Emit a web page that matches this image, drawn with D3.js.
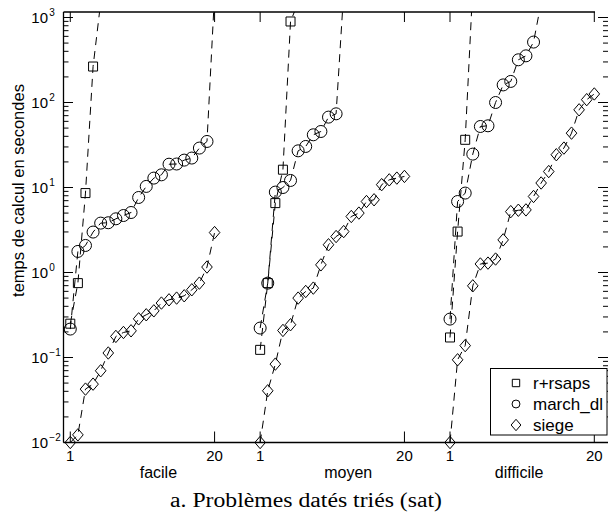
<!DOCTYPE html>
<html><head><meta charset="utf-8">
<script src="https://cdn.jsdelivr.net/npm/d3@7"></script>
<style>body{margin:0;background:#fff}</style>
</head><body>
<svg id="c" width="608" height="514" xmlns="http://www.w3.org/2000/svg"></svg>
<script>
// ---- data ----
const panels = ["facile", "moyen", "difficile"];
const panelOffset = [0, 25, 50];          // problem index offset of each panel on the shared x axis
const xTickValues = [1, 20];
const xTickLabels = ["1", "20"];
const seriesNames = ["r+rsaps", "march_dl", "siege"];
const yTickExponents = ["\u22122", "\u22121", "0", "1", "2", "3"];

// values in seconds, sorted; values above 1000 are timeouts (off the chart)
const rsapsFacile = [0.25, 0.75, 8.6, 265, 1500];
const marchFacile = [0.216, 1.77, 2.08, 2.99, 3.81, 3.85, 4.28, 4.68, 5.08, 7.63, 10.3, 12.9, 14.1, 18.8, 18.9, 21.0, 22.2, 29.1, 34.8, 1900];
const siegeFacile = [0.010, 0.0123, 0.0425, 0.0486, 0.0698, 0.113, 0.177, 0.197, 0.206, 0.285, 0.318, 0.354, 0.437, 0.477, 0.50, 0.532, 0.626, 0.75, 1.16, 2.95];

const rsapsMoyen = [0.123, 0.75, 6.55, 16.2, 898, 1500];
const marchMoyen = [0.222, 0.75, 8.83, 10.0, 12.1, 27.0, 30.4, 41.7, 45.6, 67.3, 73.6, 2000];
const siegeMoyen = [0.010, 0.0406, 0.0836, 0.208, 0.243, 0.50, 0.598, 0.655, 1.23, 2.12, 2.65, 3.03, 4.56, 5.0, 6.84, 7.17, 10.8, 12.3, 12.9, 13.5];

const rsapsDifficile = [0.172, 3.03, 36.4, 2300];
const marchDifficile = [0.283, 6.84, 8.6, 24.7, 52.2, 53.2, 100, 161, 177, 318, 354, 514, 1500];
const siegeDifficile = [0.010, 0.094, 0.138, 0.697, 1.26, 1.29, 1.44, 2.42, 5.2, 5.4, 5.45, 7.84, 11.3, 15.4, 24.3, 29.1, 43.6, 82.0, 108, 126];

const seriesByPanel = [
  [rsapsFacile, marchFacile, siegeFacile],
  [rsapsMoyen, marchMoyen, siegeMoyen],
  [rsapsDifficile, marchDifficile, siegeDifficile]
];

// ---- layout ----
const svg = d3.select("#c");
const x = d3.scaleLinear().domain([0, 70]).range([62.7, 594.3]);
const y = d3.scaleLog().domain([0.01, 1000]).range([442.5, 17.5]);
const plotTop = 12, plotBottom = 442.5, plotLeft = 63.5, rightAxis = 608;
const sans = "'Liberation Sans', Arial, Helvetica, sans-serif";

svg.append("defs").append("clipPath").attr("id", "plotclip")
  .append("rect").attr("x", plotLeft).attr("y", plotTop).attr("width", rightAxis - plotLeft).attr("height", plotBottom - plotTop);

const markers = {
  "r+rsaps": s => `M${-4.5*s},${-4.5*s}h${9*s}v${9*s}h${-9*s}Z`,
  "march_dl": s => `M${-6*s},0a${6*s},${6*s} 0 1,0 ${12*s},0a${6*s},${6*s} 0 1,0 ${-12*s},0Z`,
  "siege": s => `M0,${-6.2*s}L${5.3*s},0L0,${6.2*s}L${-5.3*s},0Z`
};

// ---- lines ----
const line = d3.line().x(d => x(d.x)).y(d => y(d.v));
const gLines = svg.append("g").attr("clip-path", "url(#plotclip)");
const gMarks = svg.append("g");
seriesByPanel.forEach((arr, p) => {
  arr.forEach((vals, s) => {
    const pts = vals.map((v, i) => ({x: panelOffset[p] + i + 1, v}));
    gLines.append("path").attr("d", line(pts))
      .attr("fill", "none").attr("stroke", "#000").attr("stroke-width", 1)
      .attr("stroke-dasharray", "8,6");
    gMarks.selectAll(null).data(pts.filter(d => d.v <= 1000)).enter().append("path")
      .attr("transform", d => `translate(${x(d.x)},${y(d.v)})`)
      .attr("d", markers[seriesNames[s]](1))
      .attr("fill", "none").attr("stroke", "#000").attr("stroke-width", 1);
  });
});

// ---- frame & ticks ----
const gAx = svg.append("g").attr("stroke", "#000").attr("stroke-width", 1.3);
gAx.append("line").attr("x1", plotLeft).attr("x2", plotLeft).attr("y1", plotTop).attr("y2", plotBottom);
gAx.append("line").attr("x1", plotLeft).attr("x2", rightAxis).attr("y1", plotBottom).attr("y2", plotBottom);
gAx.append("line").attr("x1", plotLeft).attr("x2", 595).attr("y1", plotTop).attr("y2", plotTop);

const isMajor = v => Math.abs(Math.log10(v) - Math.round(Math.log10(v))) < 1e-6;
y.ticks().forEach(v => {
  const yy = y(v), len = isMajor(v) ? 9.5 : 5;
  gAx.append("line").attr("x1", plotLeft).attr("x2", plotLeft + len).attr("y1", yy).attr("y2", yy).attr("stroke-width", 1);
  gAx.append("line").attr("x1", rightAxis).attr("x2", rightAxis - (isMajor(v) ? 10 : 5)).attr("y1", yy).attr("y2", yy).attr("stroke-width", 1);
});

panelOffset.forEach(off => {
  xTickValues.forEach((t, k) => {
    const xx = x(off + t);
    gAx.append("line").attr("x1", xx).attr("x2", xx).attr("y1", plotBottom).attr("y2", plotBottom - 11).attr("stroke-width", 1);
    gAx.append("line").attr("x1", xx).attr("x2", xx).attr("y1", plotTop).attr("y2", plotTop + 10).attr("stroke-width", 1);
    svg.append("text").attr("x", xx).attr("y", 461).attr("text-anchor", "middle")
      .attr("font-family", sans).attr("font-size", 15).text(xTickLabels[k]);
  });
});

// y tick labels 10^n
y.ticks().filter(isMajor).forEach((v, i) => {
  const yy = y(v);
  svg.append("text").attr("x", 48).attr("y", yy + 5.3).attr("text-anchor", "end")
    .attr("font-family", sans).attr("font-size", 15).text("10");
  svg.append("text").attr("x", 49.3).attr("y", yy - 1.2)
    .attr("font-family", sans).attr("font-size", 10).text(yTickExponents[i]);
});

// panel labels (centred under each group)
const panelLabelPos = [12.6, 37.6, 60.1];
panels.forEach((name, p) => {
  svg.append("text").attr("x", x(panelLabelPos[p])).attr("y", 478).attr("text-anchor", "middle")
    .attr("font-family", sans).attr("font-size", 16).text(name);
});

// y axis title
svg.append("text").attr("transform", "translate(23.5,190.5) rotate(-90)").attr("text-anchor", "middle")
  .attr("font-family", sans).attr("font-size", 16.5).text("temps de calcul en secondes");

// caption
svg.append("text").attr("x", 170).attr("y", 507)
  .attr("font-family", "'Liberation Serif', 'Times New Roman', serif").attr("font-size", 20)
  .attr("textLength", 272).attr("lengthAdjust", "spacingAndGlyphs")
  .text("a. Probl\u00e8mes dat\u00e9s tri\u00e9s (sat)");

// ---- legend ----
const lg = svg.append("g");
lg.append("rect").attr("x", 490.5).attr("y", 368.5).attr("width", 116.5).attr("height", 66.5)
  .attr("fill", "#fff").attr("stroke", "#000").attr("stroke-width", 1);
const legendScale = [0.82, 0.66, 0.92];
seriesNames.forEach((n, i) => {
  const cy = 383 + i * 21;
  lg.append("path").attr("transform", `translate(516,${cy})`).attr("d", markers[n](legendScale[i]))
    .attr("fill", "none").attr("stroke", "#000").attr("stroke-width", 1);
  lg.append("text").attr("x", 533).attr("y", cy + 6).attr("font-family", sans).attr("font-size", 17).text(n);
});
</script>
</body></html>
